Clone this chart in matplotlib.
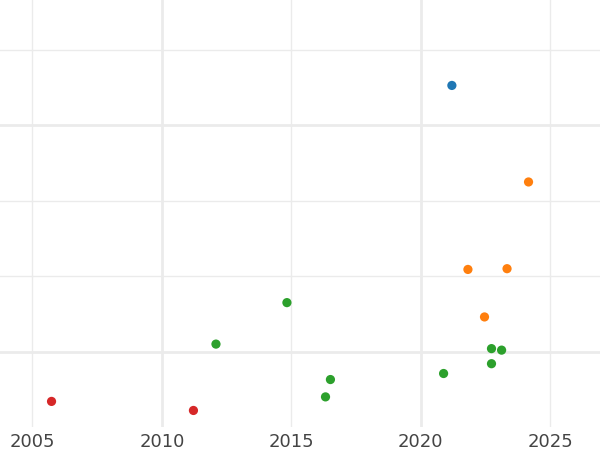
import matplotlib
matplotlib.use("Agg")
import matplotlib.pyplot as plt
from matplotlib.ticker import FixedLocator

# Data (x = year, y = value in arbitrary units)
blue_x = [2021.20]
blue_y = [4.53]
orange_x = [2024.16, 2021.82, 2023.33, 2022.46]
orange_y = [3.25, 2.09, 2.10, 1.46]
green_x = [2012.09, 2014.83, 2016.51, 2016.32, 2020.88, 2022.73, 2023.12, 2022.73]
green_y = [1.10, 1.65, 0.63, 0.40, 0.71, 1.04, 1.02, 0.84]
red_x = [2005.74, 2011.22]
red_y = [0.34, 0.22]

major_x = [2010, 2020]
minor_x = [2005, 2015, 2025]
major_y = [1, 4]
minor_y = [2, 3, 5]

fig = plt.figure(figsize=(6, 4.5), dpi=100)
ax = fig.add_axes([0, 0.051, 1, 0.949])

for xs, ys, c in [(blue_x, blue_y, "#1f77b4"), (orange_x, orange_y, "#ff7f0e"),
                  (green_x, green_y, "#2ca02c"), (red_x, red_y, "#d62728")]:
    ax.scatter(xs, ys, s=44, color=c, edgecolors="none", zorder=3)

ax.set_xlim(2003.75, 2026.92)
ax.set_ylim(0, 5.663)

ax.xaxis.set_major_locator(FixedLocator(major_x))
ax.xaxis.set_minor_locator(FixedLocator(minor_x))
ax.set_xticklabels([str(v) for v in major_x])
ax.set_xticklabels([str(v) for v in minor_x], minor=True)
ax.yaxis.set_major_locator(FixedLocator(major_y))
ax.yaxis.set_minor_locator(FixedLocator(minor_y))
ax.set_yticklabels([])
ax.set_yticklabels([], minor=True)

ax.tick_params(axis="both", which="both", length=0, labelsize=13, colors="#444444", pad=4)
ax.grid(True, which="major", color="#ebebeb", linewidth=2)
ax.grid(True, which="minor", color="#ebebeb", linewidth=1)
ax.set_axisbelow(True)
for s in ax.spines.values():
    s.set_visible(False)

fig.savefig("out.png", dpi=100)
